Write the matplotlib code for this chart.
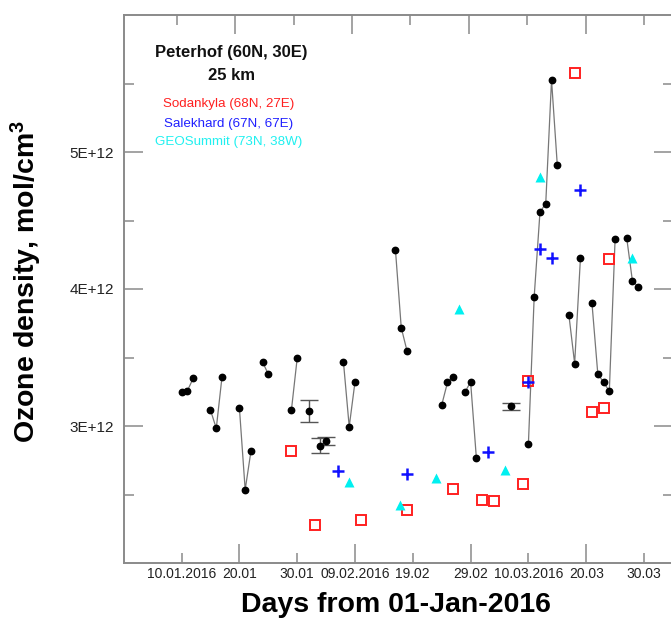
import matplotlib
matplotlib.use("Agg")
import matplotlib.pyplot as plt
from matplotlib.ticker import FixedLocator, NullFormatter

plt.rcParams['font.family'] = ['Liberation Sans', 'DejaVu Sans']
plt.rcParams['mathtext.fontset'] = 'custom'
plt.rcParams['mathtext.rm'] = 'Liberation Sans'
plt.rcParams['mathtext.bf'] = 'Liberation Sans:bold'
plt.rcParams['mathtext.default'] = 'regular'

# ---- Data (day of year, ozone density in units of 1E12 mol/cm^3) ----
peterhof_segments = [
    ([10, 11, 12], [3.245, 3.257, 3.347]),
    ([15, 16, 17], [3.116, 2.983, 3.361]),
    ([20, 21, 22], [3.133, 2.535, 2.816]),
    ([24, 25], [3.468, 3.378]),
    ([29, 30], [3.116, 3.495]),
    ([38, 39, 40], [3.468, 2.995, 3.322]),
    ([47, 48, 49], [4.285, 3.718, 3.548]),
    ([55, 56, 57], [3.153, 3.318, 3.361]),
    ([59, 60, 61], [3.245, 3.322, 2.765]),
    ([70, 71, 72, 73, 74, 75], [2.869, 3.943, 4.561, 4.624, 5.526, 4.903]),
    ([77, 78, 79], [3.812, 3.456, 4.224]),
    ([81, 82, 83, 84, 85], [3.895, 3.383, 3.318, 3.255, 4.367]),
    ([87, 88, 89], [4.375, 4.057, 4.018]),
]
peterhof_err_days = [32, 34, 35, 67]
peterhof_err_vals = [3.107, 2.857, 2.889, 3.143]
peterhof_err = [0.08, 0.055, 0.03, 0.025]

sodankyla_days = [29, 33, 41, 49, 57, 62, 64, 69, 70, 78, 81, 83, 84]
sodankyla_vals = [2.816, 2.275, 2.316, 2.384, 2.542, 2.462, 2.449, 2.573, 3.329,
                  5.58, 3.104, 3.133, 4.217]

salekhard_days = [37, 49, 63, 70, 72, 74, 79]
salekhard_vals = [2.67, 2.651, 2.813, 3.322, 4.292, 4.224, 4.721]

geosummit_days = [39, 47.7, 54, 58, 66, 72, 88]
geosummit_vals = [2.59, 2.42, 2.62, 3.851, 2.68, 4.82, 4.224]

xtick_days = [10, 20, 30, 40, 50, 60, 70, 80, 90]
xtick_labels = ['10.01.2016', '20.01', '30.01', '09.02.2016', '19.02',
                '29.02', '10.03.2016', '20.03', '30.03']
ytick_vals = [3, 4, 5]
ytick_labels = ['3E+12', '4E+12', '5E+12']

# ---- Figure ----
W, H = 671, 621
fig = plt.figure(figsize=(W / 100, H / 100), dpi=100)
left, right, top, bottom = 123.5, 673.0, 15.0, 563.0
ax = fig.add_axes([left / W, (H - bottom) / H, (right - left) / W, (bottom - top) / H])

ax.set_xlim(-0.05, (right - 124.0) / 5.778)
ax.set_ylim(2.0, 6.0)

gray = '#8a8a8a'
for seg_d, seg_v in peterhof_segments:
    ax.plot(seg_d, seg_v, '-', color='#777777', lw=0.9, zorder=3)
    ax.plot(seg_d, seg_v, 'o', color='black', ms=4.6, zorder=5)

ax.plot(peterhof_err_days[1:3], peterhof_err_vals[1:3], '-', color='#777777', lw=0.9, zorder=3)
ax.errorbar(peterhof_err_days, peterhof_err_vals, yerr=peterhof_err, fmt='o',
            color='black', ecolor='#555555', elinewidth=1.0, capsize=6.5,
            capthick=1.0, ms=4.6, zorder=5)

ax.plot(sodankyla_days, sodankyla_vals, 's', mfc='none', mec='#ff2020', mew=1.4,
        ms=7, ls='none', zorder=4)
ax.plot(salekhard_days, salekhard_vals, '+', color='#1010ff', mew=1.8,
        ms=8, ls='none', zorder=4.5)
ax.plot(geosummit_days, geosummit_vals, '^', color='#00f0f0', mec='none',
        ms=7, ls='none', zorder=4)

# x tick labels (no marks on this axis; marks drawn by twin axes)
ax.set_xticks(xtick_days)
ax.set_xticklabels(xtick_labels)
ax.tick_params(axis='x', which='major', direction='in', length=0, pad=3,
               labelsize=10, labelcolor='#222222')
ax.tick_params(axis='x', which='minor', length=0)

ax.set_yticks(ytick_vals)
ax.set_yticklabels(ytick_labels)
ax.yaxis.set_minor_locator(FixedLocator([2.5, 3.5, 4.5, 5.5]))
ax.tick_params(axis='y', which='major', direction='in', length=14, pad=7,
               labelsize=11, labelcolor='#222222', color=gray, width=1.1,
               right=True)
ax.tick_params(axis='y', which='minor', direction='in', length=7,
               color=gray, width=1.1, right=True)

# bottom tick marks of two lengths
ax_b = ax.twiny()
ax_b.set_xlim(ax.get_xlim())
ax_b.xaxis.set_ticks_position('bottom')
ax_b.xaxis.set_major_locator(FixedLocator([20, 40, 60, 80]))
ax_b.xaxis.set_minor_locator(FixedLocator([10, 30, 50, 70, 90]))
ax_b.xaxis.set_major_formatter(NullFormatter())
ax_b.tick_params(axis='x', which='major', direction='in', length=14,
                 color=gray, width=1.1, bottom=True, top=False,
                 labelbottom=False, labeltop=False)
ax_b.tick_params(axis='x', which='minor', direction='in', length=7,
                 color=gray, width=1.1, bottom=True, top=False)
for s in ax_b.spines.values():
    s.set_visible(False)

# top axis (separate scale)
ax_t = ax.twiny()
a = 1 - (176.7 - left) / 58.41
b = 1 + (right - 176.7) / 58.41
ax_t.set_xlim(a, b)
ax_t.xaxis.set_major_locator(FixedLocator([2, 4, 6, 8]))
ax_t.xaxis.set_minor_locator(FixedLocator([1, 3, 5, 7, 9]))
ax_t.xaxis.set_major_formatter(NullFormatter())
ax_t.tick_params(axis='x', which='major', direction='in', length=14,
                 color=gray, width=1.1)
ax_t.tick_params(axis='x', which='minor', direction='in', length=7,
                 color=gray, width=1.1)
for s in ax_t.spines.values():
    s.set_visible(False)

for name, s in ax.spines.items():
    s.set_color(gray)
    s.set_linewidth(1.4)

# labels
fig.text(396 / W, 1 - 605 / H, 'Days from 01-Jan-2016', ha='center', va='center',
         fontsize=20.5, fontweight='bold', color='black')
fig.text(26 / W, 1 - 281 / H, r'Ozone density, mol/cm$^{3}$', ha='center', va='center',
         rotation=90, fontsize=20.5, fontweight='bold', color='black')

fig.text(231.5 / W, 1 - 52 / H, 'Peterhof (60N, 30E)', ha='center', va='center',
         fontsize=12, fontweight='bold', color='#111111')
fig.text(231.5 / W, 1 - 75 / H, '25 km', ha='center', va='center',
         fontsize=12, fontweight='bold', color='#111111')
fig.text(228.5 / W, 1 - 104 / H, 'Sodankyla (68N, 27E)', ha='center', va='center',
         fontsize=9.6, color='#ff2020')
fig.text(228.5 / W, 1 - 124 / H, 'Salekhard (67N, 67E)', ha='center', va='center',
         fontsize=9.6, color='#2020ff')
fig.text(228.5 / W, 1 - 142.5 / H, 'GEOSummit (73N, 38W)', ha='center', va='center',
         fontsize=9.6, color='#20f0f0')

fig.savefig('out.png', dpi=100)
